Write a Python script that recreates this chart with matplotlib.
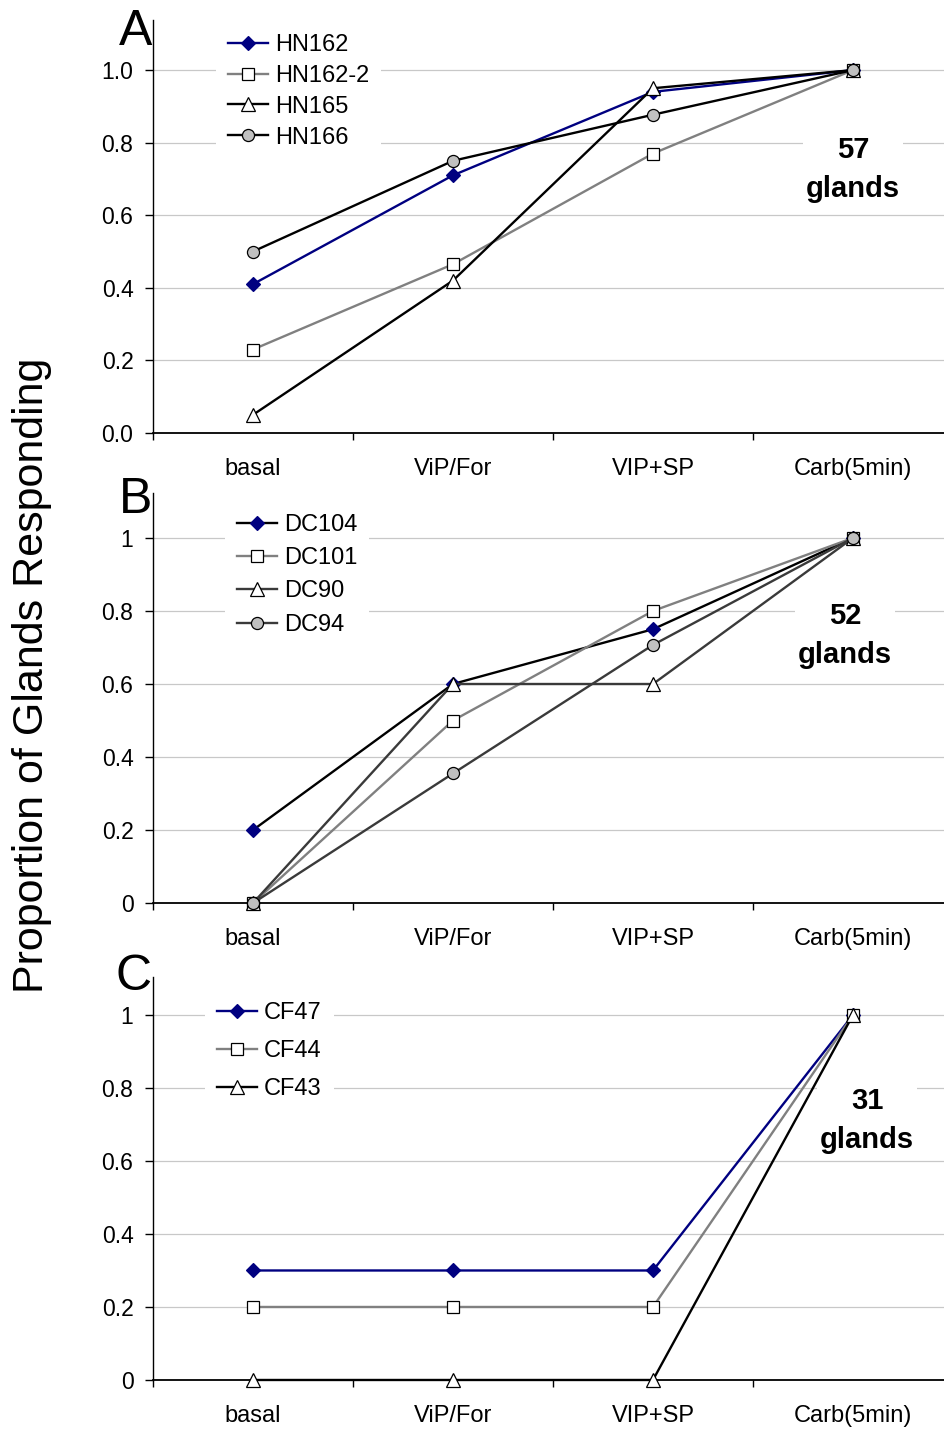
import matplotlib.pyplot as plt
from matplotlib.ticker import FixedLocator, FuncFormatter

plt.rcParams['font.family'] = ['Liberation Sans', 'DejaVu Sans']

categories = ["basal", "ViP/For", "VIP+SP", "Carb(5min)"]

# panel A
hn_names = ["HN162", "HN162-2", "HN165", "HN166"]
hn162 = [0.41, 0.71, 0.94, 1.0]
hn162_2 = [0.23, 0.465, 0.77, 1.0]
hn165 = [0.05, 0.42, 0.95, 1.0]
hn166 = [0.50, 0.75, 0.877, 1.0]

# panel B
dc_names = ["DC104", "DC101", "DC90", "DC94"]
dc104 = [0.2, 0.6, 0.75, 1.0]
dc101 = [0.0, 0.5, 0.8, 1.0]
dc90 = [0.0, 0.6, 0.6, 1.0]
dc94 = [0.0, 0.355, 0.707, 1.0]

# panel C
cf_names = ["CF47", "CF44", "CF43"]
cf47 = [0.3, 0.3, 0.3, 1.0]
cf44 = [0.2, 0.2, 0.2, 1.0]
cf43 = [0.0, 0.0, 0.0, 1.0]

gland_counts = [57, 52, 31]

NAVY = "#000080"
GRAY = "#808080"
DARK = "#3a3a3a"
LIGHT = "#c0c0c0"

# (line colour, marker, face colour, edge colour, marker size)
diamond = lambda lc: (lc, "D", NAVY, NAVY, 7.2)
square = lambda lc: (lc, "s", "white", "black", 8.5)
triangle = lambda lc: (lc, "^", "white", "black", 10)
circle = lambda lc: (lc, "o", LIGHT, "black", 8.7)

styles_a = [diamond(NAVY), square(GRAY), triangle("black"), circle("black")]
styles_b = [diamond("black"), square(GRAY), triangle(DARK), circle(DARK)]
styles_c = [diamond(NAVY), square(GRAY), triangle("black")]

fig = plt.figure(figsize=(9.44, 14.29), dpi=100)
W, H = 944.0, 1429.0


def panel(rect, ylim, series, names, styles, one_decimal, leg_xy, labelspacing,
          letter, letter_y, txt_xy, count):
    ax = fig.add_axes(rect)
    x = range(len(categories))
    for vals, name, (lc, m, fc, ec, ms) in zip(series, names, styles):
        ax.plot(x, vals, color=lc, lw=1.7, marker=m, ms=ms, mfc=fc, mec=ec,
                mew=0.9, label=name, clip_on=False, zorder=3)
    ax.set_xlim(-0.5, 3.455)
    ax.set_ylim(*ylim)
    yt = [0, 0.2, 0.4, 0.6, 0.8, 1.0]
    ax.set_yticks(yt)
    if one_decimal:
        ax.yaxis.set_major_formatter(FuncFormatter(lambda v, p: f"{v:.1f}"))
    else:
        ax.yaxis.set_major_formatter(FuncFormatter(lambda v, p: f"{v:g}"))
    ax.set_xticks(list(x))
    ax.set_xticklabels(categories, fontsize=17)
    ax.xaxis.set_minor_locator(FixedLocator([-0.5, 0.5, 1.5, 2.5, 3.5]))
    ax.tick_params(axis="x", which="major", length=0, pad=18)
    ax.tick_params(axis="x", which="minor", length=5, width=1, direction="out")
    ax.tick_params(axis="y", length=5.5, width=1, direction="out", pad=8.5,
                   labelsize=16.5)
    for yv in yt[1:]:
        ax.axhline(yv, color="#c8c8c8", lw=0.9, zorder=1)
    ax.spines["top"].set_visible(False)
    ax.spines["right"].set_visible(False)
    ax.spines["left"].set_linewidth(1.0)
    ax.spines["bottom"].set_linewidth(1.3)
    leg = ax.legend(loc="upper left", bbox_to_anchor=(leg_xy[0] / W, 1 - leg_xy[1] / H),
                    bbox_transform=fig.transFigure, fontsize=17, frameon=True,
                    fancybox=False, edgecolor="none", facecolor="white", framealpha=1,
                    borderpad=0.5, borderaxespad=0, handlelength=1.7,
                    handletextpad=0.3, labelspacing=labelspacing)
    leg.set_zorder(5)
    ax.text(txt_xy[0], txt_xy[1], f"{count}\nglands", fontsize=21, fontweight="bold",
            ha="center", va="center", multialignment="center", linespacing=1.5,
            zorder=6, bbox=dict(facecolor="white", edgecolor="none", pad=2))
    fig.text(152 / W, 1 - letter_y / H, letter, fontsize=36, ha="right", va="baseline")
    return ax


panel([0.162, 0.697, 0.838, 0.289], (0, 1.138), [hn162, hn162_2, hn165, hn166],
      hn_names, styles_a, True, (216, 22), 0.38, "A", 45, (3.0, 0.725), gland_counts[0])
panel([0.162, 0.368, 0.838, 0.287], (0, 1.123), [dc104, dc101, dc90, dc94],
      dc_names, styles_b, False, (225, 502), 0.48, "B", 513, (2.96, 0.732), gland_counts[1])
panel([0.162, 0.0343, 0.838, 0.282], (0, 1.104), [cf47, cf44, cf43],
      cf_names, styles_c, False, (205, 990), 0.68, "C", 990, (3.07, 0.71), gland_counts[2])

fig.text(32 / W, 1 - 675 / H, "Proportion of Glands Responding", fontsize=31,
         rotation=90, ha="center", va="center")

fig.savefig("out.png", dpi=100)
